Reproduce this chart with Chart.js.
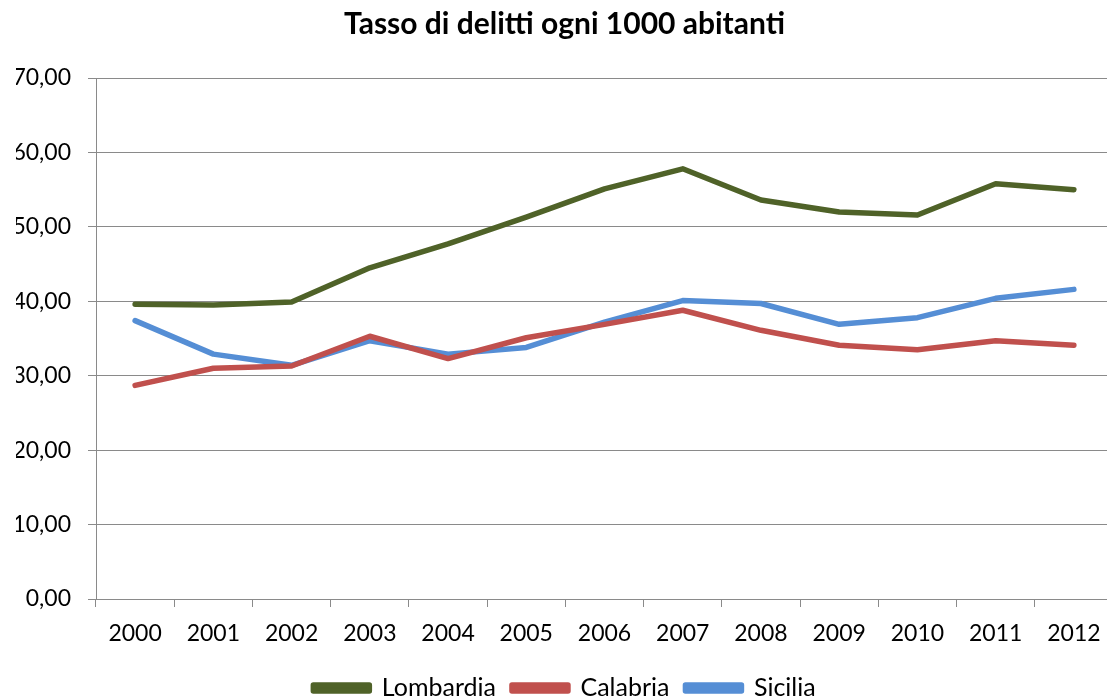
<!DOCTYPE html>
<html>
<head>
    <title>Tasso di delitti</title>
    <script src="https://cdn.jsdelivr.net/npm/chart.js"></script>
    <style>
        body { margin: 0; background: #fff; overflow: hidden; }
        #wrap { width: 1107px; height: 699px; overflow: hidden; position: relative; }
        #wrap canvas { position: absolute; left: 0; top: 0; }
    </style>
</head>
<body>
    <div id="wrap">
        <canvas id="crimeChart" width="1148" height="720"></canvas>
    </div>

    <script>
        // Dati
        const years = ['2000', '2001', '2002', '2003', '2004', '2005', '2006', '2007', '2008', '2009', '2010', '2011', '2012'];
        const lombardia = [39.6, 39.5, 39.9, 44.5, 47.7, 51.3, 55.1, 57.8, 53.6, 52.0, 51.6, 55.8, 55.0];
        const calabria = [28.7, 31.0, 31.3, 35.3, 32.3, 35.1, 36.9, 38.8, 36.1, 34.1, 33.5, 34.7, 34.1];
        const sicilia = [37.4, 32.9, 31.4, 34.7, 32.9, 33.8, 37.2, 40.1, 39.7, 36.9, 37.8, 40.4, 41.6];

        const gridColor = '#8a8a8a';
        const font = { family: 'Lato', size: 23 };

        const ctx = document.getElementById('crimeChart').getContext('2d');
        new Chart(ctx, {
            type: 'line',
            data: {
                labels: years,
                datasets: [
                    { label: 'Lombardia', data: lombardia, borderColor: '#4f6228', backgroundColor: '#4f6228' },
                    { label: 'Calabria', data: calabria, borderColor: '#c0504d', backgroundColor: '#c0504d' },
                    { label: 'Sicilia', data: sicilia, borderColor: '#558ed5', backgroundColor: '#558ed5' }
                ]
            },
            options: {
                responsive: false,
                animation: false,
                elements: {
                    line: { borderWidth: 5.5, tension: 0, borderJoinStyle: 'round', borderCapStyle: 'round' },
                    point: { radius: 0, hoverRadius: 0 }
                },
                layout: { padding: { left: 16, right: 35, top: 0, bottom: 9.5 } },
                plugins: {
                    title: {
                        display: true,
                        text: 'Tasso di delitti ogni 1000 abitanti',
                        color: '#000',
                        font: { family: 'Lato', size: 30, weight: 'bold' },
                        padding: { top: 6, bottom: 36 }
                    },
                    legend: {
                        position: 'bottom',
                        labels: {
                            color: '#000',
                            font: { family: 'Lato', size: 25 },
                            boxWidth: 56,
                            boxHeight: 6,
                            padding: 16
                        }
                    },
                    tooltip: { enabled: false }
                },
                scales: {
                    x: {
                        offset: true,
                        grid: { offset: true, drawOnChartArea: false, drawTicks: true, tickLength: 8, color: gridColor },
                        border: { color: gridColor },
                        ticks: { color: '#000', font: font, padding: 13, maxRotation: 0 },
                        afterFit: scale => { scale.height = 60.5; }
                    },
                    y: {
                        min: 0,
                        max: 70,
                        grid: { color: gridColor, tickLength: 8 },
                        border: { color: gridColor },
                        ticks: {
                            stepSize: 10,
                            color: '#000',
                            font: font,
                            padding: 17,
                            callback: v => v.toFixed(2).replace('.', ',')
                        },
                        afterFit: scale => { scale.width = 80; }
                    }
                }
            }
        });
    </script>
</body>
</html>
